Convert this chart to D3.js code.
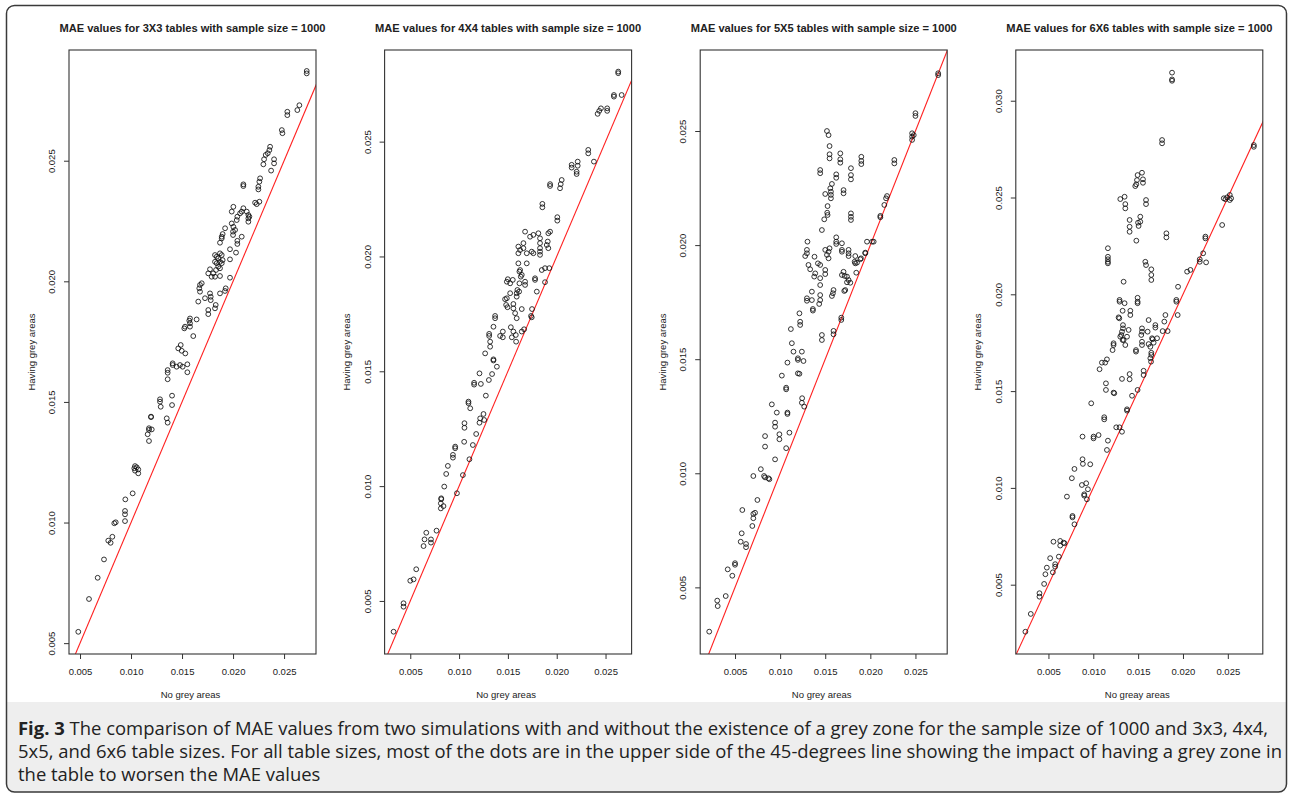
<!DOCTYPE html>
<html lang="en">
<head>
<meta charset="UTF-8">
<title>MAE values comparison</title>
<style>
  body { margin: 0; background: #fff; }
  svg text { font-family: "Liberation Sans", Arial, sans-serif; fill: #222; }
</style>
</head>
<body>
<svg id="chart" width="1292" height="799"></svg>
<script src="https://d3js.org/d3.v7.min.js"></script>
<script>
const panelTitles = [
  "MAE values for 3X3 tables with sample size = 1000",
  "MAE values for 4X4 tables with sample size = 1000",
  "MAE values for 5X5 tables with sample size = 1000",
  "MAE values for 6X6 tables with sample size = 1000"
];
const xAxisTitles = ["No grey areas", "No grey areas", "No grey areas", "No greay areas"];
const yAxisTitle = "Having grey areas";
const tickValues = [0.005, 0.010, 0.015, 0.020, 0.025, 0.030];

// [no grey areas, having grey areas]
const mae3x3 = [
  [0.02722,0.02862],[0.02722,0.02872],[0.02532,0.02703],[0.02532,0.02689],[0.0263,0.0271],[0.0265,0.0273],
  [0.02478,0.02627],[0.02484,0.02614],[0.02363,0.02558],[0.02356,0.02544],[0.0234,0.02531],[0.0232,0.02524],
  [0.02304,0.02506],[0.02297,0.02485],[0.02402,0.02506],[0.02402,0.02489],[0.02373,0.02459],[0.02265,0.02427],
  [0.02258,0.02413],[0.02248,0.02392],[0.02248,0.02381],[0.02101,0.02402],[0.02101,0.02395],[0.02216,0.02326],
  [0.02232,0.0232],[0.02258,0.0233],[0.0215,0.02275],[0.0215,0.02261],[0.0216,0.02268],[0.0215,0.02247],
  [0.02134,0.02289],[0.02101,0.02303],[0.01987,0.02289],[0.02003,0.02309],[0.02036,0.02254],[0.02042,0.02268],
  [0.02069,0.02282],[0.02085,0.02289],[0.01987,0.0224],[0.02003,0.02226],[0.0202,0.02213],[0.01922,0.0222],
  [0.01889,0.02185],[0.02085,0.02185],[0.01898,0.02196],[0.01889,0.02178],[0.01872,0.0216],[0.02,0.02206],
  [0.02,0.02192],[0.02042,0.02168],[0.02042,0.02155],[0.0197,0.02133],[0.02029,0.02119],[0.0197,0.02091],
  [0.01823,0.02109],[0.0184,0.02102],[0.01855,0.02095],[0.01872,0.02116],[0.01889,0.02109],[0.01823,0.02081],
  [0.0184,0.02075],[0.01872,0.02081],[0.01889,0.02075],[0.01898,0.02088],[0.01855,0.02061],[0.01833,0.02047],
  [0.01806,0.02033],[0.01872,0.02054],[0.01774,0.0205],[0.01757,0.02033],[0.0179,0.02019],[0.01823,0.02019],
  [0.01872,0.02022],[0.0197,0.02015],[0.01693,0.01992],[0.01676,0.01985],[0.01669,0.01971],[0.01676,0.01957],
  [0.01659,0.01916],[0.01725,0.0193],[0.01774,0.0195],[0.01781,0.01936],[0.01781,0.01922],[0.0183,0.01902],
  [0.01823,0.01888],[0.01757,0.01881],[0.01757,0.01864],[0.01872,0.0195],[0.01921,0.0196],[0.01928,0.01971],
  [0.01643,0.01842],[0.01578,0.01846],[0.01571,0.01837],[0.01578,0.01826],[0.01529,0.01812],[0.01522,0.01805],
  [0.01578,0.01812],[0.0161,0.01773],[0.01463,0.01722],[0.01487,0.01736],[0.01497,0.01712],[0.01532,0.01701],
  [0.01408,0.0166],[0.01408,0.01653],[0.01447,0.01646],[0.0148,0.01653],[0.01506,0.01646],[0.01552,0.01656],
  [0.01552,0.01623],[0.01359,0.01632],[0.01359,0.01621],[0.01359,0.01594],[0.01284,0.01511],[0.01284,0.01501],
  [0.01291,0.0148],[0.01402,0.01526],[0.01402,0.01487],[0.0135,0.01432],[0.01359,0.01414],[0.01196,0.01439],
  [0.01196,0.01437],[0.01176,0.01391],[0.01176,0.01384],[0.01203,0.01386],[0.01163,0.01366],[0.01176,0.01338],
  [0.01039,0.01234],[0.01056,0.01229],[0.01032,0.01225],[0.01071,0.0122],[0.01039,0.01215],[0.01071,0.01204],
  [0.01016,0.01121],[0.00944,0.01096],[0.00941,0.01048],[0.00941,0.01034],[0.00941,0.01006],[0.0085,0.01001],
  [0.00836,0.00997],[0.00817,0.00941],[0.00777,0.00925],[0.008,0.00916],[0.00735,0.00847],[0.00673,0.00771],
  [0.00588,0.00683],[0.00483,0.00547]
];

const mae4x4 = [
  [0.0263,0.02798],[0.0263,0.02805],[0.02586,0.02703],[0.02586,0.02696],[0.02665,0.02703],[0.02453,0.02645],
  [0.02436,0.02634],[0.02419,0.02621],[0.02517,0.02645],[0.02517,0.02634],[0.02323,0.02464],[0.02323,0.02449],
  [0.02381,0.02413],[0.02153,0.02399],[0.02153,0.02387],[0.02215,0.02413],[0.02215,0.02395],[0.02204,0.02369],
  [0.02204,0.02359],[0.01932,0.02315],[0.01932,0.02307],[0.02051,0.02333],[0.02041,0.02315],[0.02034,0.02297],
  [0.01853,0.02229],[0.01853,0.02214],[0.02006,0.02171],[0.02006,0.02156],[0.01676,0.02108],[0.01727,0.02086],
  [0.01761,0.02094],[0.01812,0.02101],[0.01829,0.02079],[0.01829,0.02058],[0.01914,0.02101],[0.01932,0.02108],
  [0.01908,0.02065],[0.01898,0.0205],[0.01914,0.02036],[0.01607,0.02043],[0.01625,0.02028],[0.01659,0.02036],
  [0.01693,0.02014],[0.01607,0.02014],[0.01744,0.02021],[0.01761,0.02014],[0.01829,0.02021],[0.01829,0.02007],
  [0.01829,0.02036],[0.01659,0.02058],[0.01607,0.0197],[0.01693,0.0197],[0.01625,0.01941],[0.01618,0.01934],
  [0.01642,0.0192],[0.01632,0.01912],[0.0155,0.01898],[0.01499,0.01901],[0.01489,0.0189],[0.01523,0.01883],
  [0.01618,0.01883],[0.01676,0.0189],[0.01676,0.01876],[0.01778,0.01905],[0.01778,0.01898],[0.01847,0.01941],
  [0.0188,0.01949],[0.01924,0.01949],[0.0188,0.01888],[0.01796,0.01847],[0.01597,0.01854],[0.0159,0.0184],
  [0.0159,0.01825],[0.01615,0.01847],[0.01523,0.0184],[0.01471,0.01814],[0.01489,0.01818],[0.01482,0.01789],
  [0.01496,0.01779],[0.01556,0.01793],[0.01556,0.01774],[0.01574,0.01753],[0.01642,0.01771],[0.0159,0.01731],
  [0.01747,0.01771],[0.01737,0.01741],[0.01744,0.01735],[0.0153,0.01692],[0.01556,0.01673],[0.01581,0.01658],
  [0.0154,0.01648],[0.01584,0.01629],[0.01642,0.01673],[0.01666,0.01683],[0.01448,0.01673],[0.0142,0.01654],
  [0.01448,0.01648],[0.01369,0.01741],[0.01369,0.01731],[0.01352,0.01694],[0.01308,0.01663],[0.01308,0.01654],
  [0.01318,0.01629],[0.01318,0.01607],[0.01267,0.01578],[0.01352,0.01552],[0.01352,0.01547],[0.01387,0.0152],
  [0.01338,0.01488],[0.01305,0.01462],[0.01209,0.01491],[0.01223,0.01445],[0.01154,0.0145],[0.01154,0.01442],
  [0.01274,0.01394],[0.01096,0.01368],[0.01096,0.01361],[0.01114,0.01339],[0.0125,0.01314],[0.01216,0.01295],
  [0.01209,0.01276],[0.01257,0.01288],[0.01055,0.01274],[0.01055,0.01254],[0.01175,0.01227],[0.01052,0.01193],
  [0.01141,0.01179],[0.0096,0.01172],[0.0096,0.01165],[0.00937,0.01136],[0.00937,0.01124],[0.01106,0.01117],
  [0.00885,0.01088],[0.00868,0.01053],[0.00848,0.00998],[0.01039,0.01048],[0.00978,0.00969],[0.00817,0.00947],
  [0.00817,0.00943],[0.00813,0.00925],[0.0084,0.00913],[0.00813,0.00903],[0.00769,0.00806],[0.00664,0.00797],
  [0.00646,0.00768],[0.00636,0.00739],[0.00712,0.00768],[0.00712,0.00754],[0.00561,0.00638],[0.00534,0.00594],
  [0.005,0.00588],[0.00431,0.0049],[0.00431,0.00475],[0.00329,0.00366]
];

const mae5x5 = [
  [0.02752,0.02753],[0.02752,0.02745],[0.025,0.02578],[0.025,0.02566],[0.02463,0.0249],[0.02463,0.02475],
  [0.02463,0.02461],[0.02481,0.02482],[0.02266,0.02373],[0.02266,0.02358],[0.02185,0.02215],[0.02174,0.02205],
  [0.02155,0.02176],[0.02111,0.02128],[0.02111,0.02122],[0.01519,0.025],[0.01537,0.02482],[0.01548,0.02434],
  [0.01548,0.02398],[0.01548,0.0238],[0.01667,0.02402],[0.01667,0.02376],[0.01667,0.02361],[0.019,0.02387],
  [0.019,0.02369],[0.019,0.02355],[0.01444,0.02329],[0.01444,0.02315],[0.01622,0.0231],[0.01622,0.02295],
  [0.01574,0.02268],[0.01556,0.02249],[0.01563,0.02234],[0.01563,0.0222],[0.01563,0.02205],[0.015,0.02224],
  [0.01703,0.02241],[0.01703,0.02227],[0.01785,0.02337],[0.01785,0.02307],[0.01785,0.02288],[0.01526,0.02171],
  [0.01522,0.02142],[0.01526,0.02132],[0.01489,0.02113],[0.01785,0.02139],[0.01785,0.02124],[0.01785,0.0211],
  [0.01463,0.02066],[0.01622,0.02034],[0.01622,0.02015],[0.01622,0.02005],[0.01685,0.02008],[0.01685,0.01979],
  [0.01685,0.01971],[0.01759,0.01979],[0.01759,0.01964],[0.01759,0.01952],[0.01833,0.01952],[0.01826,0.01927],
  [0.01833,0.0192],[0.01852,0.01923],[0.01889,0.01938],[0.01944,0.01964],[0.01896,0.01942],[0.01944,0.01967],
  [0.01963,0.02015],[0.02019,0.02015],[0.02037,0.02015],[0.01303,0.02015],[0.01297,0.01979],[0.01297,0.01964],
  [0.01278,0.01952],[0.01381,0.01949],[0.01314,0.01913],[0.01333,0.01894],[0.01419,0.0192],[0.01444,0.01913],
  [0.015,0.01979],[0.01537,0.01971],[0.01537,0.01942],[0.01519,0.01957],[0.01548,0.01986],[0.01389,0.01876],
  [0.01378,0.01862],[0.01444,0.01855],[0.01444,0.01825],[0.015,0.01891],[0.015,0.01873],[0.01703,0.01883],
  [0.01685,0.01869],[0.01715,0.01865],[0.01741,0.01862],[0.01759,0.01847],[0.01778,0.01835],[0.01741,0.01837],
  [0.01722,0.01803],[0.01711,0.01799],[0.01844,0.01879],[0.01352,0.01796],[0.01297,0.01767],[0.01297,0.01756],
  [0.01352,0.01759],[0.01444,0.01781],[0.01444,0.01759],[0.01433,0.01742],[0.01363,0.0172],[0.01363,0.01713],
  [0.01214,0.01701],[0.01222,0.01664],[0.01222,0.0165],[0.01119,0.01632],[0.01592,0.01803],[0.01585,0.01789],
  [0.01574,0.01777],[0.01678,0.01682],[0.01678,0.01672],[0.01592,0.01624],[0.01592,0.01609],[0.01463,0.01606],
  [0.01463,0.01584],[0.0113,0.0157],[0.01148,0.01533],[0.01241,0.01533],[0.01259,0.01492],[0.01197,0.01504],
  [0.01197,0.01497],[0.01081,0.01485],[0.01197,0.01438],[0.01214,0.01436],[0.01019,0.01428],[0.01067,0.01375],
  [0.01067,0.01368],[0.01244,0.01329],[0.01241,0.01309],[0.01267,0.01292],[0.00908,0.01302],[0.00963,0.01266],
  [0.01081,0.0126],[0.01081,0.01266],[0.00944,0.01222],[0.00944,0.01204],[0.00992,0.01171],[0.00992,0.01149],
  [0.01103,0.01178],[0.00833,0.01163],[0.00833,0.01117],[0.01067,0.0111],[0.00944,0.01061],[0.00786,0.01018],
  [0.00703,0.00988],[0.00822,0.00988],[0.00833,0.00982],[0.0087,0.00978],[0.00881,0.00974],[0.00748,0.00883],
  [0.00581,0.00839],[0.00722,0.00827],[0.00703,0.00822],[0.00703,0.00803],[0.00692,0.00769],[0.00574,0.00737],
  [0.00563,0.007],[0.00622,0.0069],[0.00622,0.00676],[0.005,0.00606],[0.005,0.00599],[0.00419,0.00579],
  [0.0047,0.00551],[0.00397,0.00462],[0.00303,0.00442],[0.00308,0.00418],[0.00214,0.00306]
];

const mae6x6 = [
  [0.01878,0.03145],[0.01878,0.0311],[0.01878,0.03103],[0.01767,0.02797],[0.01767,0.0278],[0.0279,0.02771],
  [0.0279,0.02762],[0.01494,0.02616],[0.01543,0.02628],[0.01554,0.02594],[0.01554,0.02576],[0.01487,0.0259],
  [0.01468,0.02559],[0.01479,0.02568],[0.01349,0.02504],[0.01301,0.02492],[0.01357,0.02466],[0.01357,0.02444],
  [0.01588,0.02487],[0.01588,0.02466],[0.01524,0.02401],[0.01524,0.02375],[0.01505,0.02353],[0.01499,0.0237],
  [0.01405,0.02384],[0.01405,0.02349],[0.02455,0.02496],[0.02493,0.02501],[0.02522,0.02513],[0.02522,0.02487],
  [0.02537,0.02496],[0.02474,0.02491],[0.02437,0.02358],
  [0.01405,0.02323],[0.01815,0.02315],[0.01815,0.02294],[0.0148,0.02277],[0.0225,0.02298],[0.0225,0.02289],
  [0.02225,0.02212],[0.02187,0.02181],[0.02187,0.02168],[0.02258,0.02165],[0.02046,0.02117],[0.02083,0.02126],
  [0.01163,0.02238],[0.01163,0.02194],[0.01163,0.02181],[0.01163,0.02168],[0.01163,0.0216],[0.0158,0.02168],
  [0.01588,0.02151],[0.01647,0.02129],[0.01647,0.021],[0.01647,0.02074],[0.01338,0.02065],[0.01945,0.02039],
  [0.01293,0.01971],[0.01293,0.01962],[0.01349,0.01954],[0.01494,0.01982],[0.01494,0.01962],[0.01494,0.01954],
  [0.01327,0.01915],[0.01413,0.01915],[0.01413,0.01893],[0.01282,0.01881],[0.0129,0.01876],[0.01926,0.01971],
  [0.01926,0.01962],[0.01941,0.01893],[0.01804,0.01893],[0.01792,0.01859],[0.01617,0.01867],[0.01692,0.01841],
  [0.01692,0.01828],[0.01773,0.0181],[0.01829,0.0181],[0.01331,0.01841],[0.01331,0.01824],[0.0132,0.01807],
  [0.01312,0.0179],[0.01301,0.01781],[0.01338,0.01764],[0.01376,0.01781],[0.01394,0.01816],[0.01327,0.01764],
  [0.01357,0.01738],[0.01543,0.01824],[0.01543,0.01807],[0.01535,0.0179],[0.01543,0.01755],[0.01543,0.01738],
  [0.01606,0.01807],[0.01617,0.01743],[0.01636,0.01729],[0.01662,0.01768],[0.01673,0.0175],[0.01655,0.01773],
  [0.01711,0.01773],[0.01226,0.01747],[0.01226,0.01738],[0.01215,0.01712],[0.01476,0.01712],[0.01476,0.01704],
  [0.01647,0.01698],[0.01647,0.01687],[0.01636,0.0167],[0.01644,0.01652],[0.01152,0.01664],[0.01133,0.01647],
  [0.01096,0.01647],[0.0107,0.01613],[0.01561,0.01605],[0.01561,0.01583],[0.01405,0.01588],[0.01405,0.01561],
  [0.0132,0.01563],[0.01494,0.01506],[0.01432,0.01476],[0.01141,0.0154],[0.01141,0.01506],[0.01226,0.01492],
  [0.01234,0.01489],[0.00977,0.01437],[0.01122,0.01365],[0.01122,0.01354],[0.01376,0.01406],[0.01376,0.01399],
  [0.01256,0.01313],[0.01293,0.01313],[0.0132,0.0129],[0.01163,0.01244],[0.01152,0.01196],[0.0088,0.01265],
  [0.01003,0.01265],[0.01003,0.01256],[0.01059,0.01273],[0.0088,0.01148],
  [0.00884,0.01124],[0.00966,0.01122],[0.0079,0.01098],[0.00761,0.0105],[0.00873,0.01015],[0.00921,0.01024],
  [0.0094,0.00993],[0.00899,0.00967],[0.00899,0.0096],[0.00929,0.00941],[0.00706,0.00955],[0.00768,0.00855],
  [0.00768,0.00848],[0.0079,0.00812],[0.00556,0.00722],[0.00631,0.00726],[0.00631,0.00702],[0.00679,0.00714],
  [0.00668,0.00717],[0.00519,0.00637],[0.00616,0.00645],[0.00575,0.00606],[0.00575,0.00593],[0.00549,0.00564],
  [0.00482,0.00588],[0.00466,0.00554],[0.00452,0.00504],[0.004,0.00456],[0.004,0.00438],[0.00303,0.00349],
  [0.00243,0.00257]
];

// axis ranges of each panel (R style, 4% padding)
const xDomains = [[0.00392, 0.02813], [0.00237, 0.02767], [0.00114, 0.02852], [0.00136, 0.0289]];
const yDomains = [[0.00455, 0.02959], [0.00269, 0.02899], [0.00208, 0.02855], [0.00142, 0.03262]];

const captionLines = [
  "The comparison of MAE values from two simulations with and without the existence of a grey zone for the sample size of 1000 and 3x3, 4x4,",
  "5x5, and 6x6 table sizes. For all table sizes, most of the dots are in the upper side of the 45-degrees line showing the impact of having a grey zone in",
  "the table to worsen the MAE values"
];

const datasets = [mae3x3, mae4x4, mae5x5, mae6x6];
const svg = d3.select("#chart");

// outer frame + caption band
svg.append("path")
  .attr("d", "M6.5,702 L1286.5,702 L1286.5,784 Q1286.5,792 1278.5,792 L14.5,792 Q6.5,792 6.5,784 Z")
  .attr("fill", "#eeeeee");
svg.append("rect")
  .attr("x", 6.5).attr("y", 5.5).attr("width", 1280).attr("height", 786.5)
  .attr("rx", 8).attr("fill", "none").attr("stroke", "#3a3a3a").attr("stroke-width", 1.5);

const fmt = d3.format(".3f");
const panelW = 247, panelH = 604, plotTop = 50;

datasets.forEach((data, i) => {
  const left = 69 + i * 315.6;
  const g = svg.append("g").attr("transform", `translate(${left},${plotTop})`);

  const x = d3.scaleLinear().domain(xDomains[i]).range([0, panelW]);
  const y = d3.scaleLinear().domain(yDomains[i]).range([panelH, 0]);

  const clipId = "clip" + i;
  g.append("clipPath").attr("id", clipId)
    .append("rect").attr("width", panelW).attr("height", panelH);

  // 45-degree reference line
  const lo = Math.min(xDomains[i][0], yDomains[i][0]);
  const hi = Math.max(xDomains[i][1], yDomains[i][1]);
  g.append("line")
    .attr("clip-path", `url(#${clipId})`)
    .attr("x1", x(lo)).attr("y1", y(lo))
    .attr("x2", x(hi)).attr("y2", y(hi))
    .attr("stroke", "#ff2020").attr("stroke-width", 1.1);

  g.selectAll("circle")
    .data(data)
    .enter()
    .append("circle")
    .attr("cx", d => x(d[0]))
    .attr("cy", d => y(d[1]))
    .attr("r", 2.4)
    .attr("fill", "none")
    .attr("stroke", "#111")
    .attr("stroke-width", 0.85);

  // box
  g.append("rect")
    .attr("width", panelW).attr("height", panelH)
    .attr("fill", "none").attr("stroke", "#333").attr("stroke-width", 1.1);

  const xt = tickValues.filter(v => v >= xDomains[i][0] && v <= xDomains[i][1]);
  const yt = tickValues.filter(v => v >= yDomains[i][0] && v <= yDomains[i][1]);

  const xAxis = g.append("g")
    .attr("transform", `translate(0,${panelH})`)
    .call(d3.axisBottom(x).tickValues(xt).tickFormat(fmt).tickSize(5).tickSizeOuter(0));
  xAxis.select(".domain").remove();
  xAxis.selectAll("line").attr("stroke", "#333");
  xAxis.selectAll("text")
    .attr("y", 17.5)
    .attr("dy", "0.32em")
    .style("font-family", '"Liberation Sans", Arial, sans-serif')
    .style("font-size", "9.5px").attr("fill", "#333");

  const yAxis = g.append("g")
    .call(d3.axisLeft(y).tickValues(yt).tickFormat(fmt).tickSize(5).tickSizeOuter(0));
  yAxis.select(".domain").remove();
  yAxis.selectAll("line").attr("stroke", "#333");
  yAxis.selectAll("text")
    .attr("x", 0).attr("dy", 0)
    .attr("text-anchor", "middle")
    .attr("transform", "translate(-14,0) rotate(-90)")
    .style("font-family", '"Liberation Sans", Arial, sans-serif')
    .style("font-size", "9.5px").attr("fill", "#333");

  // titles
  g.append("text")
    .attr("x", panelW / 2).attr("y", -18)
    .attr("text-anchor", "middle")
    .style("font-weight", "bold").style("font-size", "11.1px")
    .text(panelTitles[i]);

  g.append("text")
    .attr("x", panelW / 2 - 2).attr("y", panelH + 43.5)
    .attr("text-anchor", "middle")
    .style("font-size", "9.5px").attr("fill", "#333")
    .text(xAxisTitles[i]);

  g.append("text")
    .attr("transform", `translate(-34.5,${panelH / 2}) rotate(-90)`)
    .attr("text-anchor", "middle")
    .style("font-size", "9.5px").attr("fill", "#333")
    .text(yAxisTitle);
});

// caption, sized so the first line spans the frame like the original
const cap = svg.append("g").attr("transform", "translate(18,0)");
const capTexts = captionLines.map((line, k) => {
  const t = cap.append("text")
    .attr("x", 0).attr("y", 735 + k * 23)
    .style("font-family", '"Open Sans", "Noto Sans", sans-serif')
    .style("font-size", "16px").attr("fill", "#222");
  if (k === 0) {
    t.append("tspan").style("font-weight", "bold").text("Fig. 3");
    t.append("tspan").text(" " + line);
  } else {
    t.text(line);
  }
  return t;
});
const firstLen = capTexts[0].node().getComputedTextLength();
const capSize = 16 * 1250 / firstLen;
capTexts.forEach(t => t.style("font-size", capSize.toFixed(2) + "px"));
</script>
</body>
</html>
